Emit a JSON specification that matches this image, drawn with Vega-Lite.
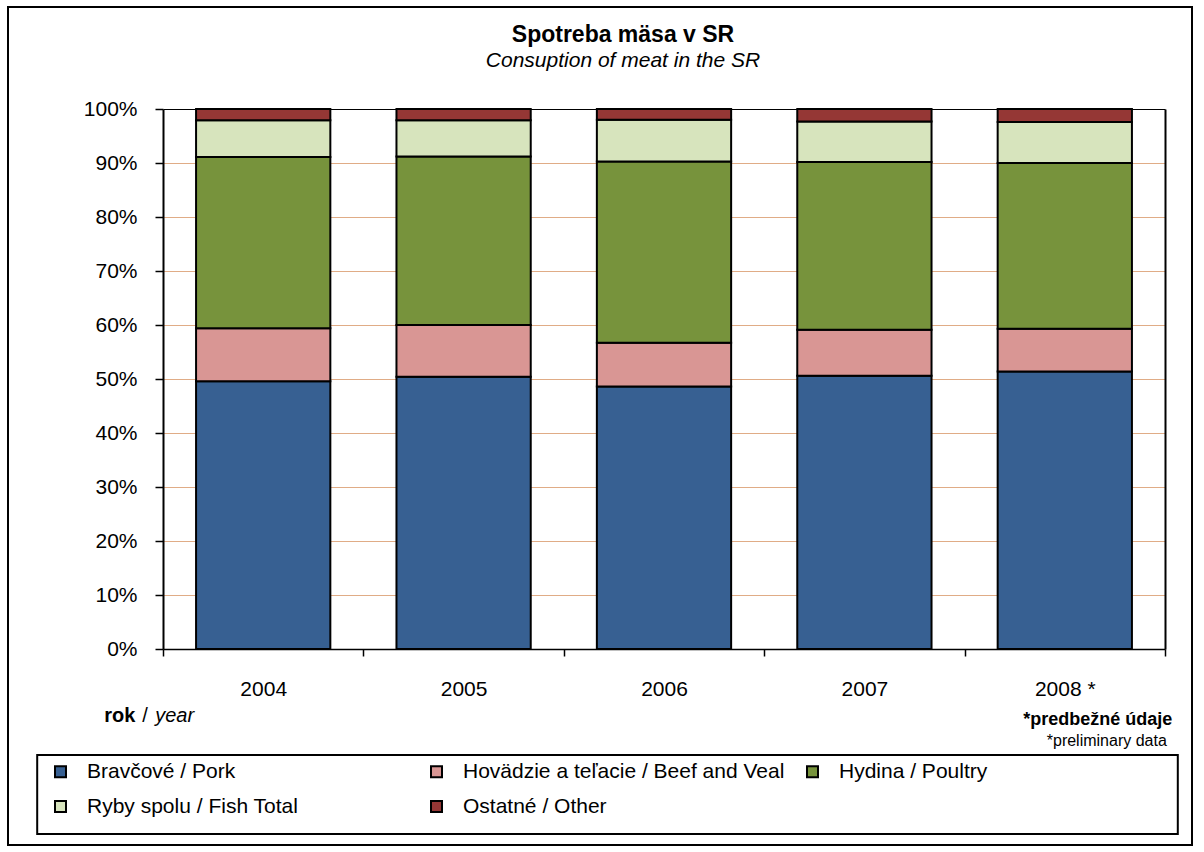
{
  "$schema": "https://vega.github.io/schema/vega-lite/v6.json",
  "width": 1184,
  "height": 838,
  "autosize": {"type": "none"},
  "padding": {"left": 8, "top": 7, "right": 12, "bottom": 7},
  "background": "white",
  "config": {
    "font": "Liberation Sans",
    "view": {"stroke": "black", "strokeWidth": 2},
    "legend": {
      "orient": "none",
      "legendX": 42,
      "legendY": 754,
      "direction": "horizontal",
      "columns": 3,
      "gridAlign": "all",
      "symbolType": "square",
      "symbolSize": 121,
      "symbolStrokeColor": "black",
      "symbolStrokeWidth": 2,
      "labelFont": "Liberation Sans",
      "labelFontSize": 21,
      "labelColor": "black",
      "labelOffset": 16,
      "labelLimit": 500,
      "rowPadding": 13,
      "columnPadding": 17,
      "padding": 0
    }
  },
  "resolve": {"axis": {"y": "independent"}},
  "data": {
    "values": [
      {"year": "2004", "meat": "Bravčové / Pork", "o": 1, "share": 49.6},
      {"year": "2004", "meat": "Hovädzie a teľacie / Beef and Veal", "o": 2, "share": 9.8},
      {"year": "2004", "meat": "Hydina / Poultry", "o": 3, "share": 31.7},
      {"year": "2004", "meat": "Ryby spolu / Fish Total", "o": 4, "share": 6.8},
      {"year": "2004", "meat": "Ostatné / Other", "o": 5, "share": 2.1},
      {"year": "2005", "meat": "Bravčové / Pork", "o": 1, "share": 50.4},
      {"year": "2005", "meat": "Hovädzie a teľacie / Beef and Veal", "o": 2, "share": 9.6},
      {"year": "2005", "meat": "Hydina / Poultry", "o": 3, "share": 31.2},
      {"year": "2005", "meat": "Ryby spolu / Fish Total", "o": 4, "share": 6.7},
      {"year": "2005", "meat": "Ostatné / Other", "o": 5, "share": 2.1},
      {"year": "2006", "meat": "Bravčové / Pork", "o": 1, "share": 48.6},
      {"year": "2006", "meat": "Hovädzie a teľacie / Beef and Veal", "o": 2, "share": 8.1},
      {"year": "2006", "meat": "Hydina / Poultry", "o": 3, "share": 33.6},
      {"year": "2006", "meat": "Ryby spolu / Fish Total", "o": 4, "share": 7.7},
      {"year": "2006", "meat": "Ostatné / Other", "o": 5, "share": 2.0},
      {"year": "2007", "meat": "Bravčové / Pork", "o": 1, "share": 50.6},
      {"year": "2007", "meat": "Hovädzie a teľacie / Beef and Veal", "o": 2, "share": 8.5},
      {"year": "2007", "meat": "Hydina / Poultry", "o": 3, "share": 31.1},
      {"year": "2007", "meat": "Ryby spolu / Fish Total", "o": 4, "share": 7.5},
      {"year": "2007", "meat": "Ostatné / Other", "o": 5, "share": 2.3},
      {"year": "2008 *", "meat": "Bravčové / Pork", "o": 1, "share": 51.4},
      {"year": "2008 *", "meat": "Hovädzie a teľacie / Beef and Veal", "o": 2, "share": 7.9},
      {"year": "2008 *", "meat": "Hydina / Poultry", "o": 3, "share": 30.7},
      {"year": "2008 *", "meat": "Ryby spolu / Fish Total", "o": 4, "share": 7.6},
      {"year": "2008 *", "meat": "Ostatné / Other", "o": 5, "share": 2.4}
    ]
  },
  "layer": [
    {
      "mark": {"type": "bar", "stroke": "black", "strokeWidth": 2, "width": {"band": 0.67}},
      "encoding": {
        "x": {
          "field": "year",
          "type": "nominal",
          "sort": null,
          "scale": {"range": [155, 1157], "paddingInner": 0, "paddingOuter": 0},
          "axis": {
            "title": null,
            "orient": "bottom",
            "offset": -196,
            "labelAngle": 0,
            "labelFont": "Liberation Sans",
            "labelFontSize": 21,
            "labelColor": "black",
            "labelPadding": 22,
            "tickBand": "extent",
            "tickColor": "black",
            "tickSize": 7,
            "tickWidth": 1.5,
            "domainColor": "black",
            "domainWidth": 1.5,
            "grid": false
          }
        },
        "y": {
          "field": "share",
          "type": "quantitative",
          "stack": "normalize",
          "scale": {"domain": [0, 1], "range": [642, 102], "nice": false},
          "axis": {
            "title": null,
            "orient": "left",
            "offset": -155,
            "values": [0, 0.1, 0.2, 0.3, 0.4, 0.5, 0.6, 0.7, 0.8, 0.9, 1],
            "format": ".0%",
            "labelFont": "Liberation Sans",
            "labelFontSize": 21,
            "labelColor": "black",
            "labelPadding": 18,
            "tickColor": "black",
            "tickSize": 8,
            "tickWidth": 1.5,
            "domainColor": "black",
            "domainWidth": 2,
            "grid": true,
            "gridWidth": 1,
            "gridColor": {"condition": {"test": "datum.value === 1", "value": "black"}, "value": "#E0AC86"}
          }
        },
        "color": {
          "field": "meat",
          "type": "nominal",
          "scale": {
            "domain": ["Bravčové / Pork", "Hovädzie a teľacie / Beef and Veal", "Hydina / Poultry", "Ryby spolu / Fish Total", "Ostatné / Other"],
            "range": ["#376092", "#D99694", "#77933C", "#D7E4BD", "#953735"]
          },
          "legend": {"title": null}
        },
        "order": {"field": "o", "type": "quantitative"}
      }
    },
    {
      "data": {"values": [{}]},
      "mark": {"type": "text", "fontWeight": "bold", "fontSize": 23, "align": "center", "baseline": "middle", "dx": -41, "dy": -74, "color": "black"},
      "encoding": {
        "x": {"datum": "2006"},
        "y": {"datum": 1, "axis": {"orient": "right", "offset": -27, "title": null, "labels": false, "ticks": false, "grid": false, "domainColor": "black", "domainWidth": 2}},
        "text": {"value": "Spotreba mäsa v SR"}
      }
    },
    {
      "data": {"values": [{}]},
      "mark": {"type": "text", "fontStyle": "italic", "fontSize": 21, "align": "center", "baseline": "middle", "dx": -41, "dy": -48, "color": "black"},
      "encoding": {"x": {"datum": "2006"}, "y": {"datum": 1, "axis": null}, "text": {"value": "Consuption of meat in the SR"}}
    },
    {
      "data": {"values": [{}]},
      "mark": {"type": "text", "fontWeight": "bold", "fontSize": 20, "align": "left", "baseline": "middle", "dx": -159, "dy": 67, "color": "black"},
      "encoding": {"x": {"datum": "2004"}, "y": {"datum": 0, "axis": null}, "text": {"value": "rok"}}
    },
    {
      "data": {"values": [{}]},
      "mark": {"type": "text", "fontSize": 20, "align": "left", "baseline": "middle", "dx": -121, "dy": 67, "color": "black"},
      "encoding": {"x": {"datum": "2004"}, "y": {"datum": 0, "axis": null}, "text": {"value": "/"}}
    },
    {
      "data": {"values": [{}]},
      "mark": {"type": "text", "fontStyle": "italic", "fontSize": 20, "align": "left", "baseline": "middle", "dx": -108, "dy": 67, "color": "black"},
      "encoding": {"x": {"datum": "2004"}, "y": {"datum": 0, "axis": null}, "text": {"value": "year"}}
    },
    {
      "data": {"values": [{}]},
      "mark": {"type": "text", "fontWeight": "bold", "fontSize": 18, "align": "center", "baseline": "middle", "dx": 33, "dy": 71, "color": "black"},
      "encoding": {"x": {"datum": "2008 *"}, "y": {"datum": 0, "axis": null}, "text": {"value": "*predbežné údaje"}}
    },
    {
      "data": {"values": [{}]},
      "mark": {"type": "text", "fontSize": 16, "align": "center", "baseline": "middle", "dx": 42, "dy": 92, "color": "black"},
      "encoding": {"x": {"datum": "2008 *"}, "y": {"datum": 0, "axis": null}, "text": {"value": "*preliminary data"}}
    },
    {
      "data": {"values": [{}]},
      "mark": {"type": "rect", "fill": "transparent", "stroke": "black", "strokeWidth": 2, "xOffset": -226, "x2Offset": 113, "yOffset": 106, "y2Offset": 185},
      "encoding": {
        "x": {"datum": "2004"},
        "x2": {"datum": "2008 *"},
        "y": {"datum": 0, "axis": null},
        "y2": {"datum": 0}
      }
    }
  ]
}
